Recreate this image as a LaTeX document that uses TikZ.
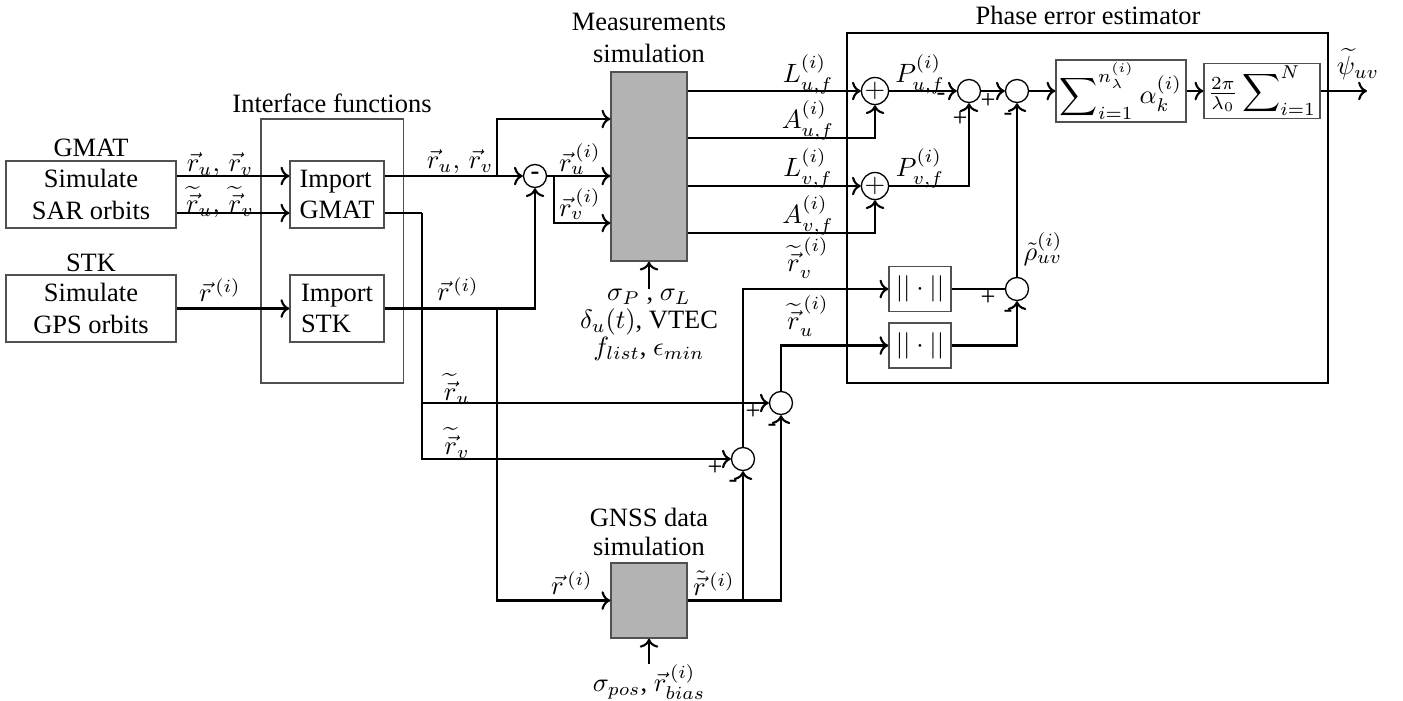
\documentclass[tikz,border=0pt]{standalone}
\usepackage[no-math]{fontspec}
\setmainfont{Liberation Serif}
\usepackage{amsmath,amssymb}
\usetikzlibrary{arrows.meta, calc}
\definecolor{boxgray}{HTML}{505050}
\definecolor{simgray}{HTML}{B3B3B3}

\begin{document}
\begin{tikzpicture}[
    x=0.378pt, y=-0.378pt,
    >={To},
    wire/.style={line width=0.8pt},
    blk/.style={draw=boxgray, line width=0.5pt, align=center, inner sep=0pt},
    simbox/.style={draw=boxgray, fill=simgray, line width=0.5pt, inner sep=0pt},
    junc/.style={circle, draw, line width=0.5pt, minimum size=8.7pt, inner sep=0pt},
    sgn/.style={inner sep=0pt},
    lbl/.style={inner sep=0pt},
  ]

  % Frame
  \useasboundingbox (0,0) rectangle (1403,700);

  % === Sources ===
  \node[blk, minimum width=64.3pt, minimum height=25.3pt] (gmat) at (91,194.5) {Simulate\\SAR orbits};
  \node[lbl] (gmatT) at (91,148) {GMAT};
  \node[blk, minimum width=64.3pt, minimum height=25.3pt] (stk) at (91,308.5) {Simulate\\GPS orbits};
  \node[lbl] (stkT) at (91,263) {STK};

  % === Interface functions ===
  \node[draw=boxgray, line width=0.4pt, minimum width=53.7pt, minimum height=99.8pt] (iface) at (332,251) {};
  \node[lbl] (ifaceT) at (332,103) {Interface functions};
  \node[blk, align=left, minimum width=35.5pt, minimum height=25.3pt] (impg) at (337,194.5) {Import\\GMAT};
  \node[blk, align=left, minimum width=35.5pt, minimum height=25.3pt] (imps) at (337,308.5) {Import\\STK};

  % === Simulation blocks ===
  \node[simbox, minimum width=28.7pt, minimum height=71.4pt] (meas) at (649,166.5) {};
  \node[lbl, align=center] (measT) at (649,38) {Measurements\\simulation};
  \node[lbl, align=center] (measPar) at (649,325)
    {$\sigma_P$ , $\sigma_L$\\[-1.6pt] $\delta_u(t)$, VTEC\\[-1.6pt] $f_{list}$, $\epsilon_{min}$};
  \node[simbox, minimum width=28.7pt, minimum height=28.4pt] (gnss) at (649,600.5) {};
  \node[lbl, align=center] (gnssT) at (649,532) {GNSS data\\[-0.8pt] simulation};
  \node[lbl] (gnssPar) at (649,682) {$\sigma_{pos}$, $\vec{r}^{\,(i)}_{bias}$};

  % === Phase error estimator ===
  \node[draw, line width=0.8pt, minimum width=181.8pt, minimum height=132.3pt] (phase) at (1087.5,208) {};
  \node[lbl] (phaseT) at (1088,15) {Phase error estimator};
  \node[blk, minimum width=49.1pt, minimum height=23.4pt] (sumbox) at (1121,91)
    {$\displaystyle\sum\nolimits_{i=1}^{n_\lambda^{(i)}} \alpha_k^{(i)}$};
  \node[blk, minimum width=43.8pt, minimum height=20.8pt] (scalebox) at (1262,91)
    {$\frac{2\pi}{\lambda_0}\displaystyle\sum\nolimits_{i=1}^{N}$};
  \node[blk, minimum width=23.4pt, minimum height=17pt] (norm1) at (920,289) {$||\cdot||$};
  \node[blk, minimum width=23.4pt, minimum height=17pt] (norm2) at (920,345.5) {$||\cdot||$};

  % === Summing junctions ===
  \node[junc] (diff) at (535,176) {\textbf{-}};
  \node[junc] (plu) at (875,91) {$+$};
  \node[junc] (plv) at (875,186) {$+$};
  \node[junc] (s1) at (969,91) {};
  \node[junc] (s2) at (1017,91) {};
  \node[junc] (rho) at (1017,289) {};
  \node[junc] (cu) at (781,403) {};
  \node[junc] (cv) at (743,459) {};

  % junction points
  \coordinate (jA) at (497,176);
  \coordinate (jB) at (554,176);
  \coordinate (jC) at (422,213);
  \coordinate (jD) at (497,308.5);
  \coordinate (jE) at (gnss.east -| cv);
  \coordinate (out) at (1367,91);

  % === Wires: sources -> interface ===
  \draw[wire,->] (gmat.east |- 0,176) -- (impg.west |- 0,176);
  \draw[wire,->] (gmat.east |- 0,213) -- (impg.west |- 0,213);
  \draw[wire,->] (stk) -- (imps);

  % === Wires: interface -> simulation ===
  \draw[wire] (impg.east |- jA) -- (jA);
  \draw[wire,->] (jA) -- (diff);
  \draw[wire,->] (jA) |- (meas.west |- 0,119);
  \draw[wire] (diff) -- (jB);
  \draw[wire,->] (jB) -- (meas.west |- jB);
  \draw[wire,->] (jB) |- (meas.west |- 0,223);
  \draw[wire,->] (imps.east) -| (diff.south);
  \draw[wire,->] (jD) |- (gnss.west);
  \draw[wire] (impg.east |- jC) -- (jC);
  \draw[wire,->] (jC) |- (cv.west);
  \draw[wire,->] (jC |- cu) -- (cu.west);
  \draw[wire,->] (measPar.north) -- (meas.south);
  \draw[wire,->] (gnssPar.north) -- (gnss.south);

  % === Wires: GNSS -> norms ===
  \draw[wire,->] (gnss.east) -| (cu.south);
  \draw[wire,->] (jE) -- (cv.south);
  \draw[wire,->] (cv.north) |- (norm1.west);
  \draw[wire,->] (cu.north) |- (norm2.west);

  % === Wires: measurements -> estimator ===
  \draw[wire,->] (meas.east |- plu) -- (plu.west);
  \draw[wire,->] (meas.east |- 0,138) -| (plu.south);
  \draw[wire,->] (meas.east |- plv) -- (plv.west);
  \draw[wire,->] (meas.east |- 0,233) -| (plv.south);
  \draw[wire,->] (plu) -- (s1);
  \draw[wire,->] (plv.east) -| (s1.south);
  \draw[wire,->] (s1) -- (s2);
  \draw[wire,->] (s2) -- (sumbox);
  \draw[wire,->] (sumbox) -- (scalebox);
  \draw[wire,->] (scalebox.east) -- (out);
  \draw[wire] (norm1) -- (rho);
  \draw[wire,->] (norm2.east) -| (rho.south);
  \draw[wire,->] (rho) -- (s2);

  % === Signal labels ===
  \node[lbl] (lA) at (220,165) {$\vec{r}_u,\,\vec{r}_v$};
  \node[lbl] (lB) at (220,202) {$\widetilde{\vec{r}}_u,\,\widetilde{\vec{r}}_v$};
  \node[lbl] (lC) at (220,290) {$\vec{r}^{\,(i)}$};
  \node[lbl] (lD) at (460,162) {$\vec{r}_u,\,\vec{r}_v$};
  \node[lbl] (lE) at (458,289) {$\vec{r}^{\,(i)}$};
  \node[lbl] (lF) at (457,389) {$\widetilde{\vec{r}}_u$};
  \node[lbl] (lG) at (457,443) {$\widetilde{\vec{r}}_v$};
  \node[lbl] (lH) at (580,159) {$\vec{r}_u^{\,(i)}$};
  \node[lbl] (lI) at (580,204) {$\vec{r}_v^{\,(i)}$};
  \node[lbl] (lJ) at (808,74) {$L_{u,f}^{(i)}$};
  \node[lbl] (lK) at (808,120) {$A_{u,f}^{(i)}$};
  \node[lbl] (lL) at (808,168) {$L_{v,f}^{(i)}$};
  \node[lbl] (lM) at (808,215) {$A_{v,f}^{(i)}$};
  \node[lbl] (lN) at (808,258) {$\widetilde{\vec{r}}_v^{\,(i)}$};
  \node[lbl] (lO) at (808,316) {$\widetilde{\vec{r}}_u^{\,(i)}$};
  \node[lbl] (lP) at (920,74) {$P_{u,f}^{(i)}$};
  \node[lbl] (lQ) at (920,168) {$P_{v,f}^{(i)}$};
  \node[lbl] (lR) at (1043,249) {$\tilde{\rho}_{uv}^{(i)}$};
  \node[lbl] (lS) at (1358,64) {$\widetilde{\psi}_{uv}$};
  \node[lbl] (lT) at (572,583) {$\vec{r}^{\,(i)}$};
  \node[lbl] (lU) at (714,583) {$\tilde{\vec{r}}^{\,(i)}$};

  % === Signs ===
  \node[sgn] (gA) at (941,97) {-};
  \node[sgn] (gB) at (960,119) {+};
  \node[sgn] (gC) at (988,101) {+};
  \node[sgn] (gD) at (1008,117) {-};
  \node[sgn] (gE) at (988,298) {+};
  \node[sgn] (gF) at (1008,314) {-};
  \node[sgn] (gG) at (753,412) {+};
  \node[sgn] (gH) at (772,428) {-};
  \node[sgn] (gI) at (715,468) {+};
  \node[sgn] (gJ) at (733,484) {-};

\end{tikzpicture}
\end{document}
